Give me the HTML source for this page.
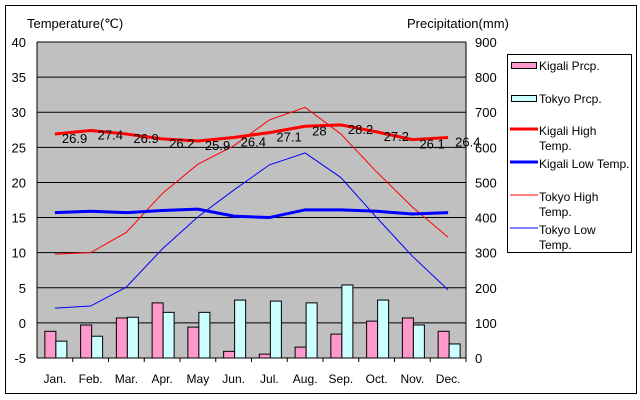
<!DOCTYPE html>
<html><head><meta charset="utf-8"><style>
body{margin:0;background:#fff;}
svg{display:block;font-family:"Liberation Sans",sans-serif;}
</style></head><body>
<svg id="c" width="640" height="400">
<rect x="5.5" y="5.5" width="631" height="388" fill="#fff" stroke="#000"/>
<rect x="37" y="42" width="429" height="316" fill="#c0c0c0"/>
<g id="g"></g>
<text x="27" y="28" font-size="13">Temperature(℃)</text>
<text x="407" y="28" font-size="13">Precipitation(mm)</text>
<g>
<rect x="507.5" y="54.5" width="124" height="198" fill="#fff" stroke="#000"/>
<rect x="511.5" y="62.5" width="25" height="6" fill="#ff99cc" stroke="#000"/>
<text x="539" y="70" font-size="12">Kigali Prcp.</text>
<rect x="511.5" y="95.5" width="25" height="6" fill="#ccffff" stroke="#000"/>
<text x="539" y="103" font-size="12">Tokyo Prcp.</text>
<line x1="510" y1="129" x2="538" y2="129" stroke="#ff0000" stroke-width="3"/>
<text x="539" y="135" font-size="12">Kigali High</text>
<text x="539" y="150" font-size="12">Temp.</text>
<line x1="510" y1="162" x2="538" y2="162" stroke="#0000ff" stroke-width="3"/>
<text x="539" y="168" font-size="12">Kigali Low Temp.</text>
<line x1="510" y1="195" x2="538" y2="195" stroke="#ff0000" stroke-width="1"/>
<text x="539" y="201" font-size="12">Tokyo High</text>
<text x="539" y="216" font-size="12">Temp.</text>
<line x1="510" y1="228" x2="538" y2="228" stroke="#0000ff" stroke-width="1"/>
<text x="539" y="234" font-size="12">Tokyo Low</text>
<text x="539" y="249" font-size="12">Temp.</text>
</g>
</svg>
<script>
const months=["Jan.","Feb.","Mar.","Apr.","May","Jun.","Jul.","Aug.","Sep.","Oct.","Nov.","Dec."];
const kigaliHigh=[26.9,27.4,26.9,26.2,25.9,26.4,27.1,28,28.2,27.2,26.1,26.4];
const kigaliLow=[15.7,15.9,15.7,16.0,16.2,15.2,15.0,16.1,16.1,15.9,15.5,15.7];
const tokyoHigh=[9.8,10.0,12.9,18.4,22.6,25.2,28.9,30.7,26.9,21.5,16.5,12.2];
const tokyoLow=[2.1,2.4,5.1,10.5,15.1,18.9,22.5,24.2,20.7,15.0,9.5,4.7];
const kigaliPrcp=[76,94,114,157,88,19,11,31,68,105,114,76];
const tokyoPrcp=[48,62,116,130,130,165,162,157,208,165,94,40];
const tempTicks=[40,35,30,25,20,15,10,5,0,-5];
const prcpTicks=[900,800,700,600,500,400,300,200,100,0];
const NS="http://www.w3.org/2000/svg",g=document.getElementById('g');
const L=37,R=466,T=42,B=358,step=(R-L)/12;
const x=i=>L+step*(i+0.5);
const yT=v=>B-(v+5)/45*(B-T);
const yP=v=>B-v/900*(B-T);
function el(t,a){const e=document.createElementNS(NS,t);for(const k in a)e.setAttribute(k,a[k]);g.appendChild(e);return e;}
tempTicks.forEach(v=>{
 const gl=el('line',{x1:L,x2:R,y1:yT(v),y2:yT(v),stroke:'#000'});
 
 
 const t=el('text',{x:26,y:yT(v)+5,'font-size':13,'text-anchor':'end'});t.textContent=v;
 
 
});
prcpTicks.forEach(v=>{
 const t=el('text',{x:475,y:yP(v)+5,'font-size':13});t.textContent=v;
 
 
});
el('line',{x1:L,x2:L,y1:T,y2:B,stroke:'#000'});
el('line',{x1:R,x2:R,y1:T,y2:B,stroke:'#000'});
el('line',{x1:L,x2:R,y1:B,y2:B,stroke:'#000'});
months.forEach((m,i)=>{
 el('line',{x1:L+step*(i+1),x2:L+step*(i+1),y1:B,y2:B+4,stroke:'#000'});
 const t=el('text',{x:x(i),y:383,'font-size':12,'text-anchor':'middle'});t.textContent=m;
 
 
 const bw=11;
 const b1=el('rect',{x:x(i)-bw+1,y:yP(kigaliPrcp[i]),width:bw,height:B-yP(kigaliPrcp[i]),fill:'#ff99cc',stroke:'#000','stroke-width':1});
 
 
 const b2=el('rect',{x:x(i)+1,y:yP(tokyoPrcp[i]),width:bw,height:B-yP(tokyoPrcp[i]),fill:'#ccffff',stroke:'#000','stroke-width':1});
 
 
});
function line(d,c,w,name){
 const p=el('polyline',{points:d.map((v,i)=>x(i)+','+yT(v)).join(' '),fill:'none',stroke:c,'stroke-width':w});
 
 
}
line(tokyoHigh,'#ff0000',1,'line-tokyo-high');
line(tokyoLow,'#0000ff',1,'line-tokyo-low');
line(kigaliHigh,'#ff0000',3,'line-kigali-high');
line(kigaliLow,'#0000ff',3,'line-kigali-low');
kigaliHigh.forEach((v,i)=>{
 const t=el('text',{x:x(i)+7,y:yT(v)+9,'font-size':13});t.textContent=v;
 
 
});
</script>
</body></html>
